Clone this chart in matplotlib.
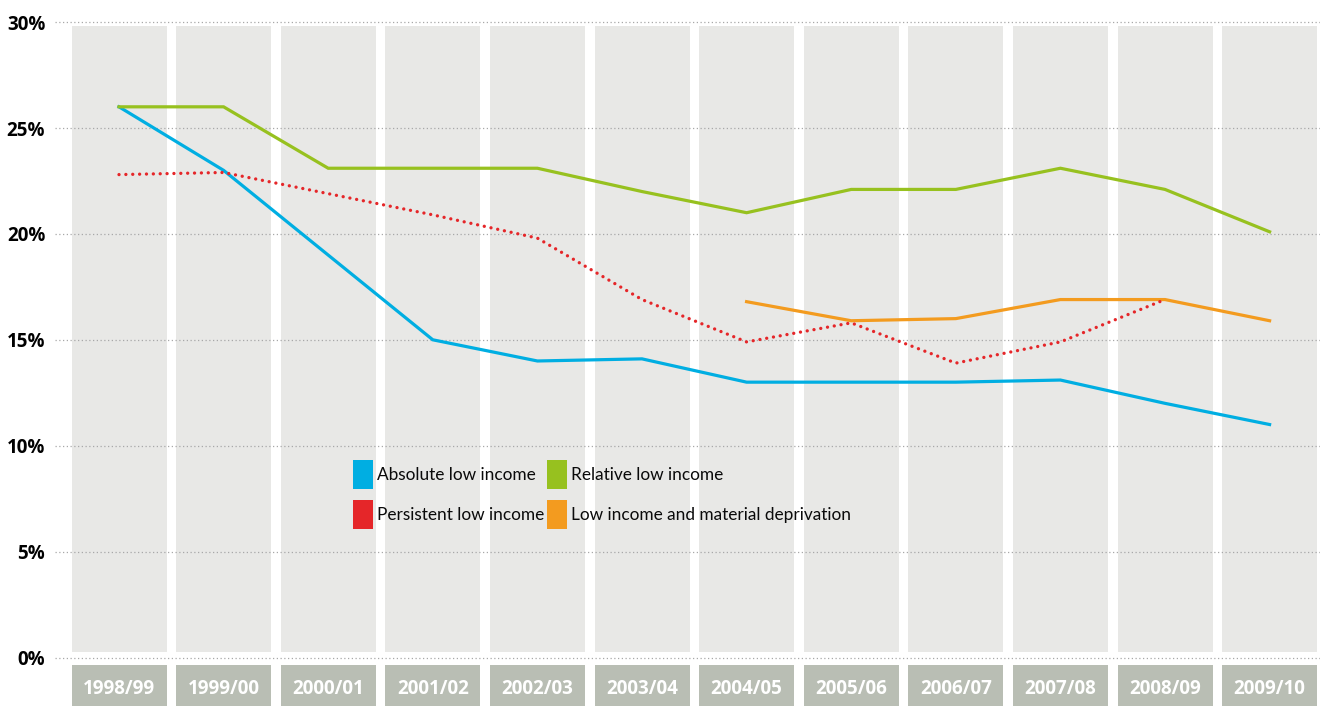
import matplotlib
matplotlib.use("Agg")
import matplotlib.pyplot as plt
from matplotlib.patches import Rectangle
import numpy as np

# ---- data ----
years = ["1998/99", "1999/00", "2000/01", "2001/02", "2002/03", "2003/04",
         "2004/05", "2005/06", "2006/07", "2007/08", "2008/09", "2009/10"]
absolute_low = [26.0, 23.0, 19.0, 15.0, 14.0, 14.1, 13.0, 13.0, 13.0, 13.1, 12.0, 11.0]
relative_low = [26.0, 26.0, 23.1, 23.1, 23.1, 22.0, 21.0, 22.1, 22.1, 23.1, 22.1, 20.1]
persistent_low = [22.8, 22.9, 21.9, 20.9, 19.8, 16.9, 14.9, 15.8, 13.9, 14.9, 16.9, np.nan]
material_dep = [np.nan, np.nan, np.nan, np.nan, np.nan, np.nan, 16.8, 15.9, 16.0, 16.9, 16.9, 15.9]
yticks = [0, 5, 10, 15, 20, 25, 30]
ytick_labels = ["0%", "5%", "10%", "15%", "20%", "25%", "30%"]
legend_labels = ["Absolute low income", "Relative low income",
                 "Persistent low income", "Low income and material deprivation"]

BLUE = "#00aee2"
GREEN = "#97c11f"
RED = "#e52629"
ORANGE = "#f39b1f"
COL_BG = "#e8e8e6"
BOX_BG = "#b9beb4"

W, H = 1320, 706
fig = plt.figure(figsize=(W / 100, H / 100), dpi=100)
ax = fig.add_axes([55 / W, 0, 1 - 55 / W, 1])

# pixel geometry -> data limits
pitch = 104.6
c0 = 119.0
y0px = 657.5
kpx = 21.18
ax.set_xlim((55 - c0) / pitch, (W - c0) / pitch)
ax.set_ylim((y0px - H) / kpx, y0px / kpx)
for s in ax.spines.values():
    s.set_visible(False)

x = np.arange(len(years))
colw = 95 / pitch
col_top = (y0px - 26) / kpx
col_bot = (y0px - 652) / kpx
box_top = (y0px - 665.3) / kpx
box_bot = (y0px - 720) / kpx
for i, lab in enumerate(years):
    ax.add_patch(Rectangle((i - colw / 2, col_bot), colw, col_top - col_bot,
                           facecolor=COL_BG, edgecolor="none", zorder=0.5))
    ax.add_patch(Rectangle((i - colw / 2, box_bot), colw, box_top - box_bot,
                           facecolor=BOX_BG, edgecolor="none", zorder=0.5, clip_on=False))
    ax.text(i, (y0px - 689) / kpx, lab, ha="center", va="center", color="white",
            fontsize=13.5, fontweight="bold", family=["Open Sans", "DejaVu Sans"], zorder=3)

# gridlines
for v in yticks:
    ax.axhline(v, color="#a8a8a8", lw=0.9, ls=(0, (1, 2)), zorder=1)

ax.set_xticks([])
ax.set_yticks(yticks)
ax.set_yticklabels(ytick_labels, fontsize=13.5, fontweight="bold",
                   family=["Open Sans", "DejaVu Sans"])
ax.tick_params(axis="y", length=0, pad=7)

lw = 2.3
ax.plot(x, absolute_low, color=BLUE, lw=lw, zorder=4, solid_joinstyle="miter")
ax.plot(x, relative_low, color=GREEN, lw=lw, zorder=4, solid_joinstyle="miter")
ax.plot(x, material_dep, color=ORANGE, lw=lw, zorder=4, solid_joinstyle="miter")
ax.plot(x, persistent_low, color=RED, lw=2.4, zorder=5,
        ls=(0, (0.01, 2.05)), dash_capstyle="round")

# legend (manual, in pixel positions)
leg_font = ["Lato", "DejaVu Sans"]
entries = [(352.7, 474.5, BLUE, legend_labels[0]),
           (547.0, 474.5, GREEN, legend_labels[1]),
           (352.7, 514.0, RED, legend_labels[2]),
           (547.0, 514.0, ORANGE, legend_labels[3])]
for px, py, colr, lab in entries:
    fig.patches.append(Rectangle((px / W, 1 - (py + 14.5) / H), 20 / W, 29 / H,
                                 transform=fig.transFigure, facecolor=colr,
                                 edgecolor="none", zorder=6))
    fig.text((px + 24) / W, 1 - (py + 1) / H, lab, ha="left", va="center",
             fontsize=12.4, color="#0a0a0a", family=leg_font, zorder=6)

fig.savefig("out.png", dpi=100)
